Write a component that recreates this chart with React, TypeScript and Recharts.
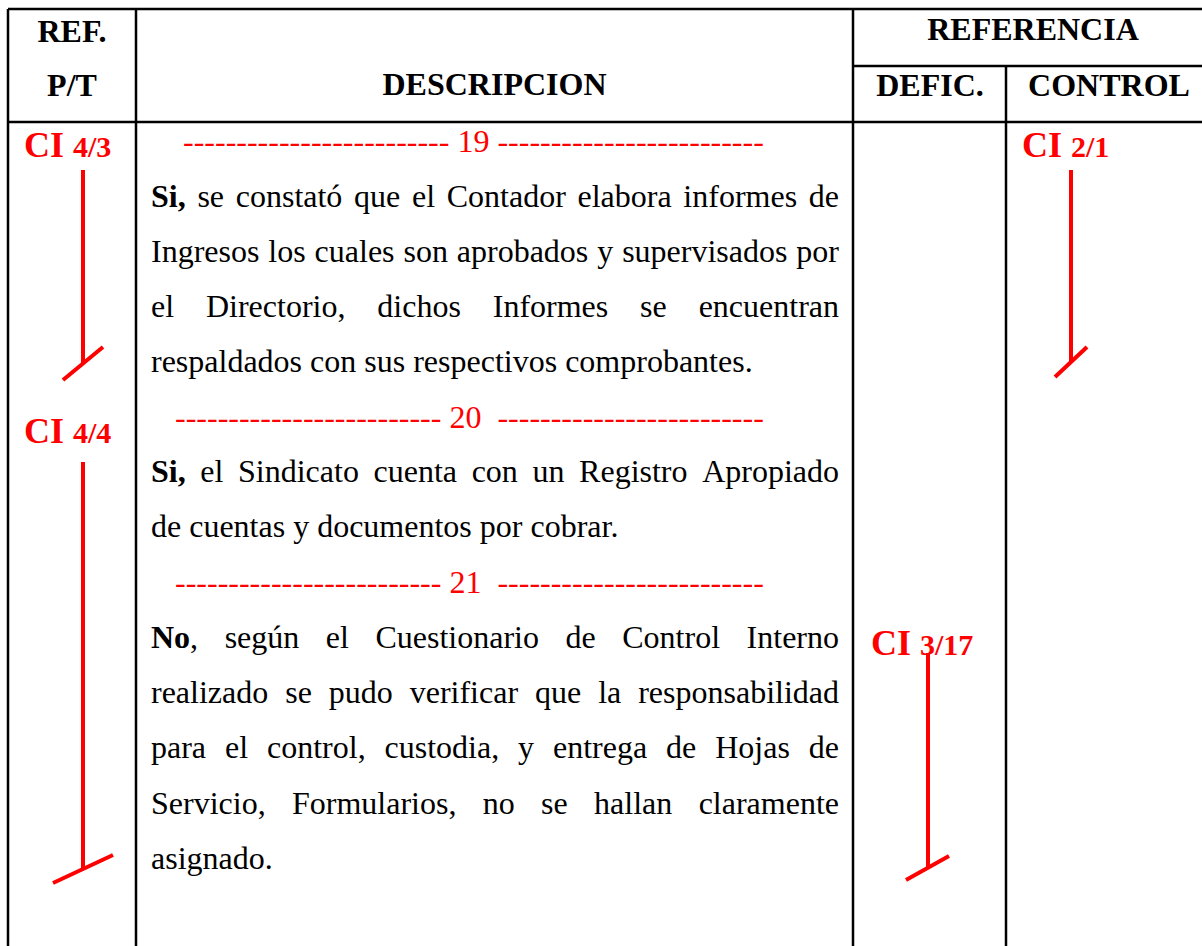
import React from 'react';
import { ScatterChart, Scatter, XAxis, YAxis, ReferenceLine } from 'recharts';

// ---------- content ----------
const headerLabels = ['REF.', 'P/T', 'DESCRIPCION', 'REFERENCIA', 'DEFIC.', 'CONTROL'];
const itemNumbers = ['19', '20', '21'];
const dashRun = '-------------------------';
const refPrefix = ['CI', 'CI', 'CI', 'CI'];
const refNumbers = ['4/3', '4/4', '2/1', '3/17'];

// body lines: bold part, regular part, justified flag
const bodyBold = ['Si,', '', '', '', 'Si,', '', 'No', '', '', '', ''];
const bodyText = [
  ' se constató que el Contador elabora informes de',
  'Ingresos los cuales son aprobados y supervisados por',
  'el Directorio, dichos Informes se encuentran',
  'respaldados con sus respectivos comprobantes.',
  ' el Sindicato cuenta con un Registro Apropiado',
  'de cuentas y documentos por cobrar.',
  ', según el Cuestionario de Control Interno',
  'realizado se pudo verificar que la responsabilidad',
  'para el control, custodia, y entrega de Hojas de',
  'Servicio, Formularios, no se hallan claramente',
  'asignado.',
];
const bodyJustified = [true, true, true, false, true, false, true, true, true, true, false];

// ---------- layout (page pixels) ----------
const W = 1202;
const H = 946;
const FONT = '"Liberation Serif", "Times New Roman", serif';
const BODY_SIZE = 32;
const HEAD_SIZE = 32;
const RED = '#ff0000';

const headerPos = [
  { x: 72, y: 42 },
  { x: 72, y: 96 },
  { x: 494.5, y: 95 },
  { x: 1033, y: 40 },
  { x: 930, y: 96 },
  { x: 1109, y: 96 },
];
const bodyX = 151;
const bodyRight = 839;
const bodyY = [207, 262, 317, 372, 482, 537, 648, 703, 758, 814, 869];
const dashPos = [
  { x: 183, y: 152, gap: ' ' },
  { x: 175, y: 428, gap: '  ' },
  { x: 175, y: 593, gap: '  ' },
];
const refPos = [
  { x: 24, y: 157 },
  { x: 24, y: 443 },
  { x: 1022, y: 157 },
  { x: 871, y: 655 },
];
const gridSegments = [
  [8, 9, 1202, 9],
  [8, 9, 8, 946],
  [136, 9, 136, 946],
  [853, 9, 853, 946],
  [1006, 66, 1006, 946],
  [853, 66, 1202, 66],
  [8, 122, 1202, 122],
];
const tickSegments = [
  [83, 170, 83, 363],
  [63, 380, 103, 347],
  [83, 462, 83, 868],
  [53, 883, 113, 855],
  [1071, 170, 1071, 361],
  [1055, 377, 1087, 347],
  [928, 653, 928, 868],
  [906, 880, 949, 856],
];

// ---------- helpers ----------
let ctx: CanvasRenderingContext2D | null = null;
function measure(text: string, bold: boolean, size: number) {
  if (!ctx) ctx = document.createElement('canvas').getContext('2d');
  if (!ctx) return text.length * size * 0.45;
  ctx.font = `${bold ? 'bold ' : ''}${size}px "Liberation Serif"`;
  return ctx.measureText(text).width;
}

type Piece = { t: string; b: boolean };
function toWords(segs: Piece[]): Piece[][] {
  const words: Piece[][] = [];
  let cur: Piece[] = [];
  segs.forEach((s) => {
    for (const ch of s.t) {
      if (ch === ' ') {
        if (cur.length) words.push(cur);
        cur = [];
      } else {
        const last = cur[cur.length - 1];
        if (last && last.b === s.b) last.t += ch;
        else cur.push({ t: ch, b: s.b });
      }
    }
  });
  if (cur.length) words.push(cur);
  return words;
}

const headerData = headerLabels.map((label, i) => ({ ...headerPos[i], label }));
const bodyData = bodyText.map((t, i) => ({
  x: bodyX,
  y: bodyY[i],
  bold: bodyBold[i],
  text: t,
  justify: bodyJustified[i],
}));
const dashData = itemNumbers.map((n, i) => ({
  x: dashPos[i].x,
  y: dashPos[i].y,
  label: `${dashRun} ${n}${dashPos[i].gap}${dashRun}`,
}));
const refData = refNumbers.map((n, i) => ({ ...refPos[i], prefix: refPrefix[i], num: n }));

const HeaderShape = (p: any) => (
  <text
    x={p.cx}
    y={p.cy}
    textAnchor="middle"
    fontFamily={FONT}
    fontWeight="bold"
    fontSize={HEAD_SIZE}
    fill="#000"
  >
    {p.payload.label}
  </text>
);

const BodyShape = (p: any) => {
  const { cx, cy, payload } = p;
  const segs: Piece[] = [];
  if (payload.bold) segs.push({ t: payload.bold, b: true });
  segs.push({ t: payload.text, b: false });
  const words = toWords(segs);
  const widths = words.map((w) => w.reduce((s, pc) => s + measure(pc.t, pc.b, BODY_SIZE), 0));
  const total = widths.reduce((a, b) => a + b, 0);
  const targetW = bodyRight - bodyX;
  const gap =
    payload.justify && words.length > 1
      ? (targetW - total) / (words.length - 1)
      : measure(' ', false, BODY_SIZE);
  let x = cx;
  const spans: React.ReactNode[] = [];
  words.forEach((w, wi) => {
    w.forEach((pc, pi) => {
      spans.push(
        <tspan
          key={`${wi}-${pi}`}
          x={pi === 0 ? x : undefined}
          fontWeight={pc.b ? 'bold' : 'normal'}
        >
          {pc.t}
        </tspan>
      );
    });
    x += widths[wi] + gap;
  });
  return (
    <text y={cy} fontFamily={FONT} fontSize={BODY_SIZE} fill="#000">
      {spans}
    </text>
  );
};

const DashShape = (p: any) => (
  <text
    x={p.cx}
    y={p.cy}
    fontFamily={FONT}
    fontSize={BODY_SIZE}
    fill={RED}
    style={{ whiteSpace: 'pre' }}
  >
    {p.payload.label}
  </text>
);

const RefShape = (p: any) => (
  <text x={p.cx} y={p.cy} fontFamily={FONT} fontWeight="bold" fill={RED} style={{ whiteSpace: 'pre' }}>
    <tspan fontSize={36}>{p.payload.prefix + ' '}</tspan>
    <tspan fontSize={30}>{p.payload.num}</tspan>
  </text>
);

export default function App() {
  return (
    <div style={{ position: 'absolute', left: 0, top: 0, width: W, height: H, background: '#fff' }}>
      <ScatterChart width={W} height={H} margin={{ top: 0, right: 0, bottom: 0, left: 0 }}>
        <XAxis type="number" dataKey="x" domain={[0, W]} hide allowDataOverflow />
        <YAxis type="number" dataKey="y" domain={[0, H]} reversed hide allowDataOverflow />
        {gridSegments.map((s, i) => (
          <ReferenceLine
            key={`g${i}`}
            segment={[{ x: s[0], y: s[1] }, { x: s[2], y: s[3] }]}
            stroke="#000"
            strokeWidth={2.5}
            ifOverflow="visible"
          />
        ))}
        {tickSegments.map((s, i) => (
          <ReferenceLine
            key={`t${i}`}
            segment={[{ x: s[0], y: s[1] }, { x: s[2], y: s[3] }]}
            stroke={RED}
            strokeWidth={4}
            ifOverflow="visible"
          />
        ))}
        <Scatter data={headerData} shape={HeaderShape} isAnimationActive={false} />
        <Scatter data={bodyData} shape={BodyShape} isAnimationActive={false} />
        <Scatter data={dashData} shape={DashShape} isAnimationActive={false} />
        <Scatter data={refData} shape={RefShape} isAnimationActive={false} />
      </ScatterChart>
    </div>
  );
}
